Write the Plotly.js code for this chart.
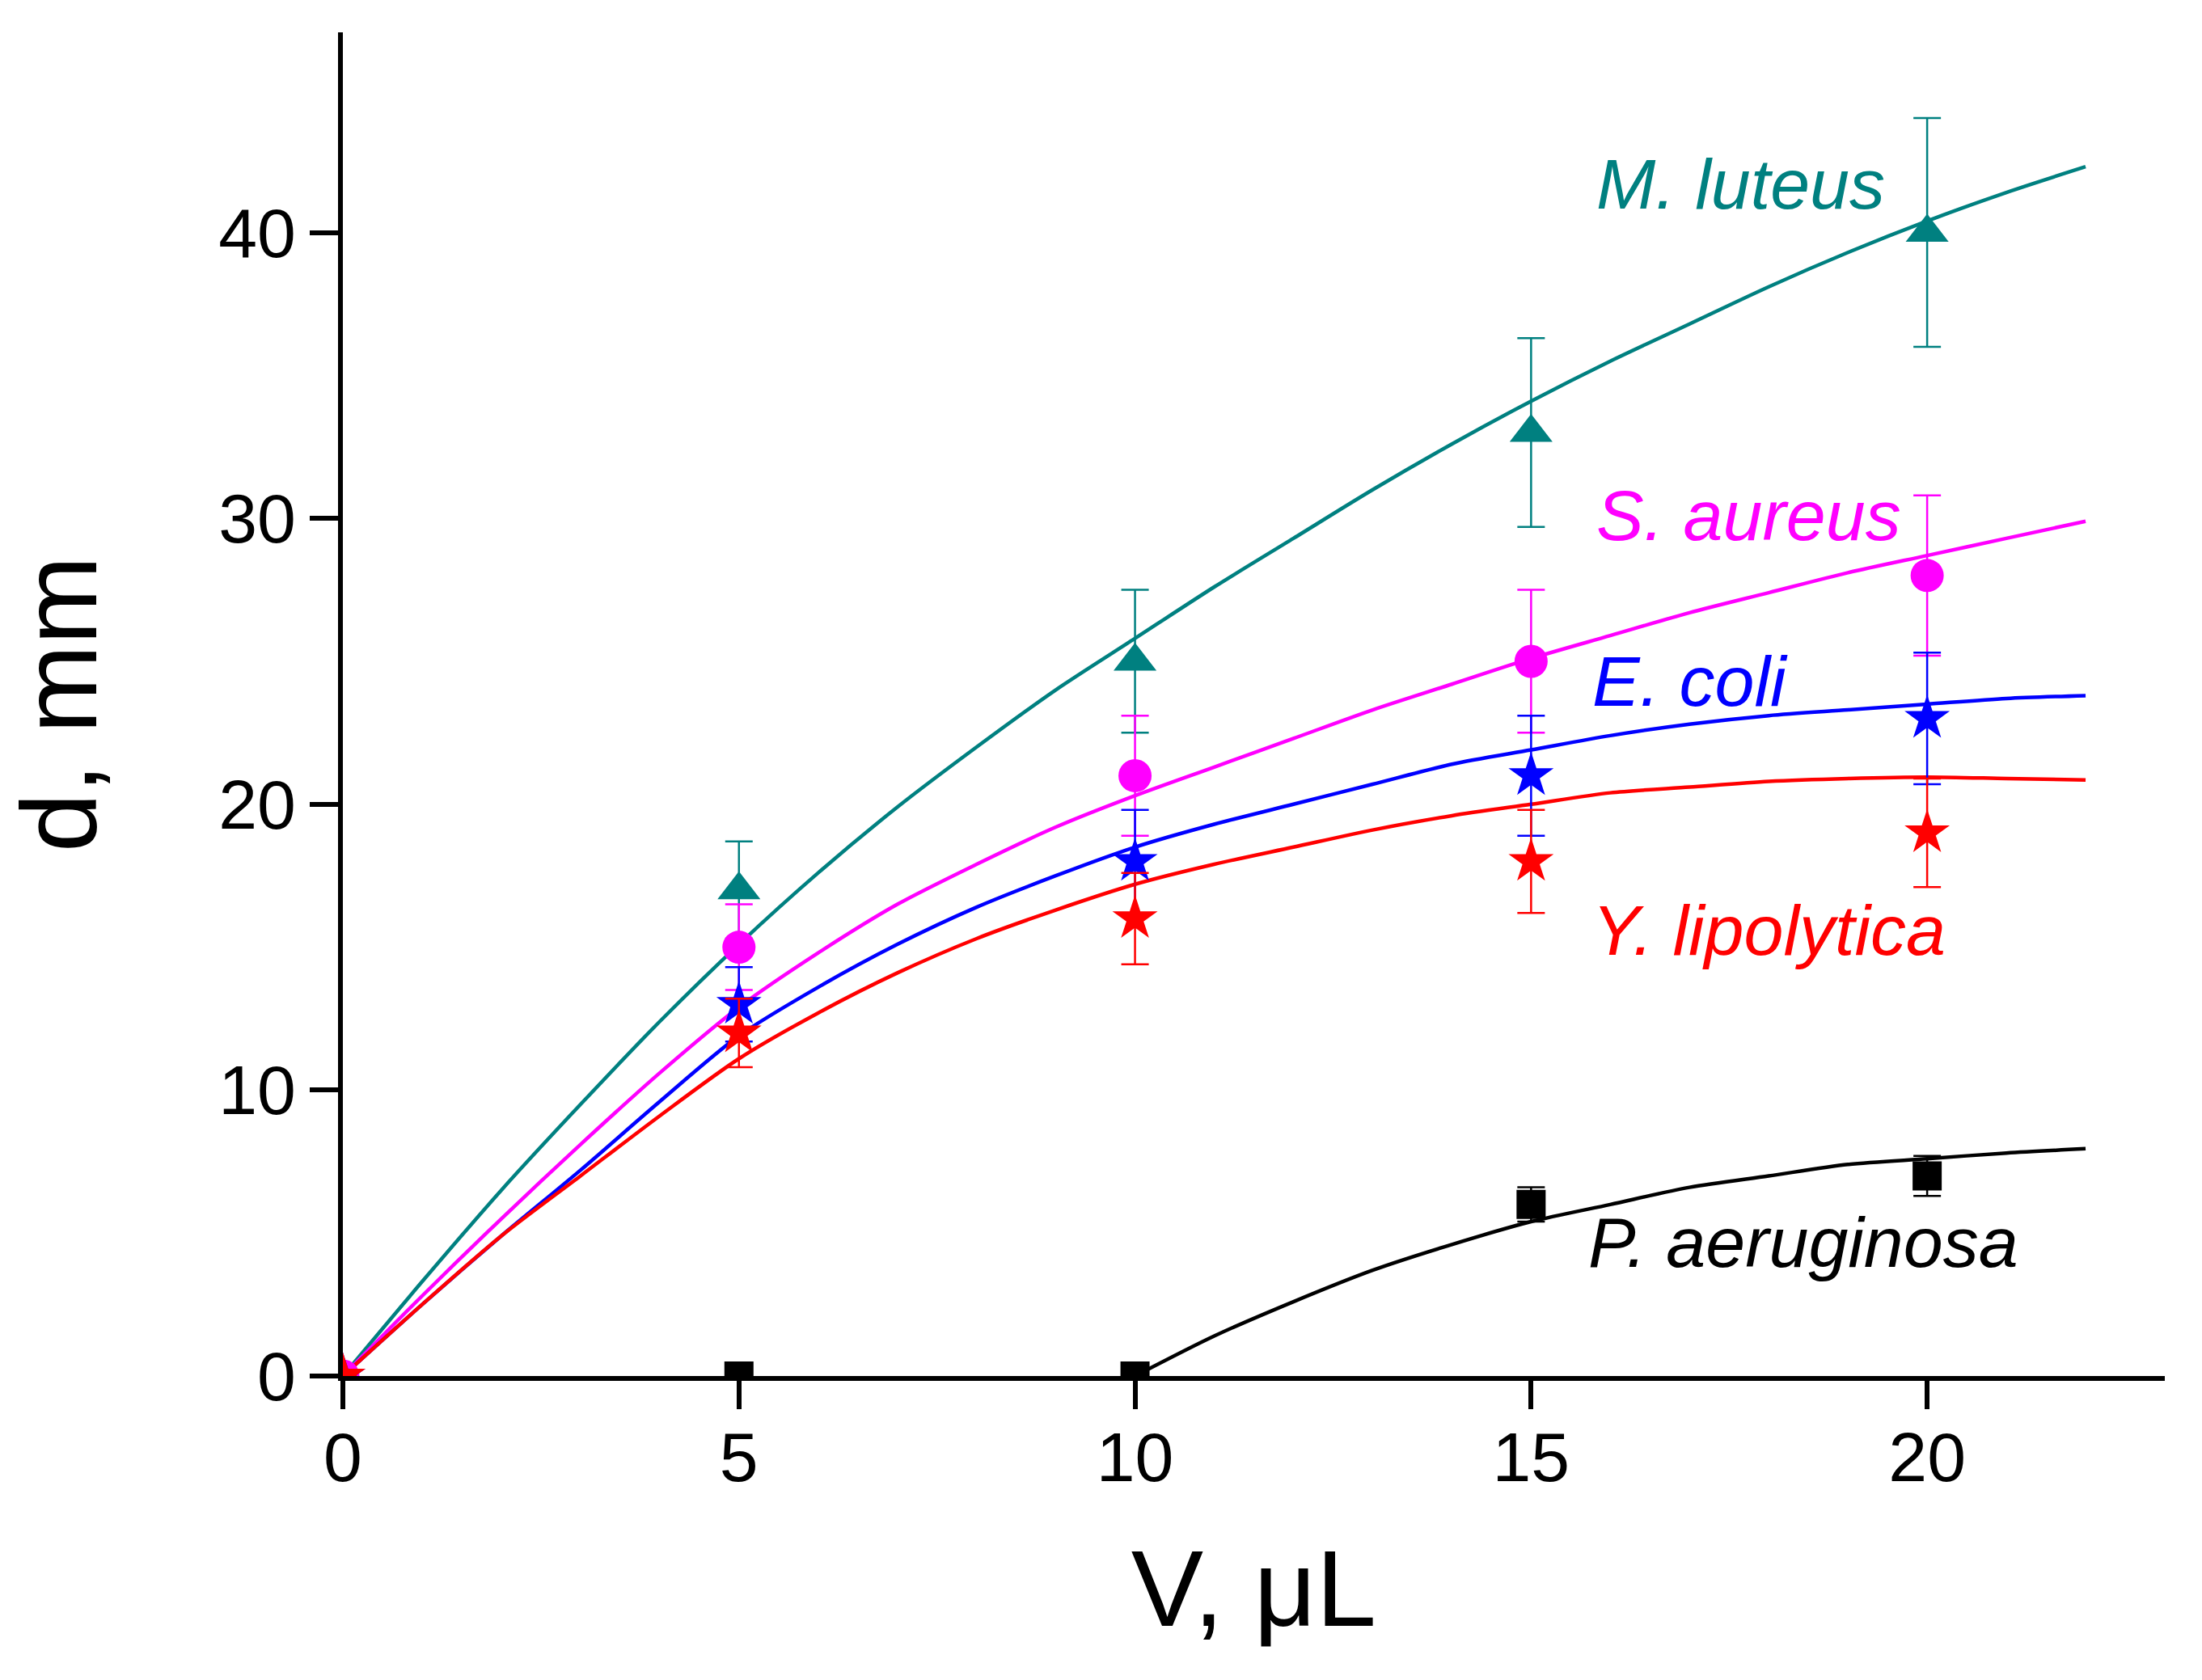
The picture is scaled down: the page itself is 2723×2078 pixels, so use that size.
<!DOCTYPE html>
<html>
<head>
<meta charset="utf-8">
<script src="https://cdn.plot.ly/plotly-3.0.1.min.js"></script>
<style>
  html, body { margin: 0; padding: 0; background: #ffffff; }
  #plot { width: 2723px; height: 2078px; }
</style>
</head>
<body>
<div id="plot"></div>
<script>
// measured points, V in uL and inhibition zone d in mm
const volumes = [0, 5, 10, 15, 20];
const luteusD = [0, 17, 25, 33, 40];
const luteusErr = [0, 1.7, 2.5, 3.3, 4.0];
const aureusD = [0, 15, 21, 25, 28];
const aureusErr = [0, 1.5, 2.1, 2.5, 2.8];
const coliD = [0, 13, 18, 21, 23];
const coliErr = [0, 1.3, 1.8, 2.1, 2.3];
const lipolyticaD = [0, 12, 16, 18, 19];
const lipolyticaErr = [0, 1.2, 1.6, 1.8, 1.9];
const aeruginosaV = [5, 10, 15, 20];
const aeruginosaD = [0, 0, 6, 7];
const aeruginosaErr = [0, 0, 0.6, 0.7];

// fitted curves
const fitV = [0, 1, 2, 3, 4, 5, 6, 7, 8, 9, 10, 11, 12, 13, 14, 15, 16, 17, 18, 19, 20, 21, 22];
const luteusFit = [0, 3.3, 6.5, 9.5, 12.4, 15.1, 17.6, 19.9, 22.0, 24.0, 25.8, 27.6, 29.3, 31.0, 32.6, 34.1, 35.5, 36.8, 38.1, 39.3, 40.4, 41.4, 42.3];
const aureusFit = [0, 2.8, 5.5, 8.1, 10.6, 12.9, 14.8, 16.5, 17.9, 19.2, 20.3, 21.3, 22.3, 23.3, 24.2, 25.1, 25.9, 26.7, 27.4, 28.1, 28.7, 29.3, 29.9];
const coliFit = [0, 2.5, 4.9, 7.2, 9.6, 11.9, 13.6, 15.1, 16.4, 17.5, 18.5, 19.3, 20.0, 20.7, 21.4, 21.9, 22.4, 22.8, 23.1, 23.3, 23.5, 23.7, 23.8];
const lipolyticaFit = [0, 2.5, 4.9, 7.0, 9.1, 11.1, 12.7, 14.1, 15.3, 16.3, 17.2, 17.9, 18.5, 19.1, 19.6, 20.0, 20.4, 20.6, 20.8, 20.9, 20.95, 20.9, 20.85];
const aeruginosaFitV = [10, 11, 12, 13, 14, 15, 16, 17, 18, 19, 20, 21, 22];
const aeruginosaFit = [0, 1.4, 2.6, 3.7, 4.6, 5.4, 6.0, 6.6, 7.0, 7.4, 7.6, 7.8, 7.95];

const labels = ['M. luteus', 'S. aureus', 'E. coli', 'Y. lipolytica', 'P. aeruginosa'];
const labelV = [15.8, 15.8, 15.75, 15.75, 15.7];
const labelD = [41.7, 30.1, 24.3, 15.6, 4.67];

const teal = '#008080';
const magenta = '#ff00ff';
const blue = '#0000ff';
const red = '#ff0000';
const black = '#000000';
const colors = [teal, magenta, blue, red, black];

const fontFamily = '"Liberation Sans", Arial, sans-serif';

function fitTrace(x, y, color) {
    return {
        x: x, y: y,
        mode: 'lines',
        line: { color: color, width: 4.5, shape: 'spline', smoothing: 0.8 },
        hoverinfo: 'skip',
        showlegend: false
    };
}

function pointTrace(x, y, err, color, symbol, size) {
    return {
        x: x, y: y,
        mode: 'markers',
        marker: { color: color, symbol: symbol, size: size, line: { width: 0 } },
        error_y: { type: 'data', array: err, visible: true, color: color, thickness: 2.5, width: 17 },
        cliponaxis: true,
        showlegend: false
    };
}

const plotData = [
    fitTrace(fitV, luteusFit, teal),
    fitTrace(fitV, aureusFit, magenta),
    fitTrace(fitV, coliFit, blue),
    fitTrace(fitV, lipolyticaFit, red),
    fitTrace(aeruginosaFitV, aeruginosaFit, black),
    pointTrace(volumes, luteusD, luteusErr, teal, 'triangle-up', 46),
    pointTrace(volumes, aureusD, aureusErr, magenta, 'circle', 41),
    pointTrace(volumes, coliD, coliErr, blue, 'star', 42),
    pointTrace(volumes, lipolyticaD, lipolyticaErr, red, 'star', 42),
    pointTrace(aeruginosaV, aeruginosaD, aeruginosaErr, black, 'square', 36)
];

const annotations = labels.map((txt, i) => ({
    x: labelV[i], y: labelD[i],
    xref: 'x', yref: 'y',
    text: '<i>' + txt + '</i>',
    showarrow: false,
    xanchor: 'left', yanchor: 'middle',
    font: { family: fontFamily, size: 88, color: colors[i] }
}));

const axisCommon = {
    showgrid: false,
    zeroline: false,
    showline: true,
    linecolor: black,
    linewidth: 6,
    ticks: 'outside',
    ticklen: 35,
    tickwidth: 6,
    tickcolor: black,
    tickfont: { family: fontFamily, size: 86, color: black }
};

const layout = {
    width: 2723,
    height: 2078,
    margin: { l: 424, r: 46, t: 40, b: 376 },
    paper_bgcolor: '#ffffff',
    plot_bgcolor: '#ffffff',
    font: { family: fontFamily, color: black },
    xaxis: Object.assign({}, axisCommon, {
        range: [0, 23],
        tickvals: [0, 5, 10, 15, 20],
        ticklabelstandoff: -14,
        title: { text: 'V, μL', font: { family: fontFamily, size: 134, color: black }, standoff: 70 }
    }),
    yaxis: Object.assign({}, axisCommon, {
        range: [0, 47],
        tickvals: [0, 10, 20, 30, 40],
        title: { text: 'd, mm', font: { family: fontFamily, size: 132, color: black }, standoff: 110 }
    }),
    annotations: annotations,
    showlegend: false
};

const config = { displayModeBar: false, staticPlot: true };

Plotly.newPlot('plot', plotData, layout, config);
</script>
</body>
</html>
